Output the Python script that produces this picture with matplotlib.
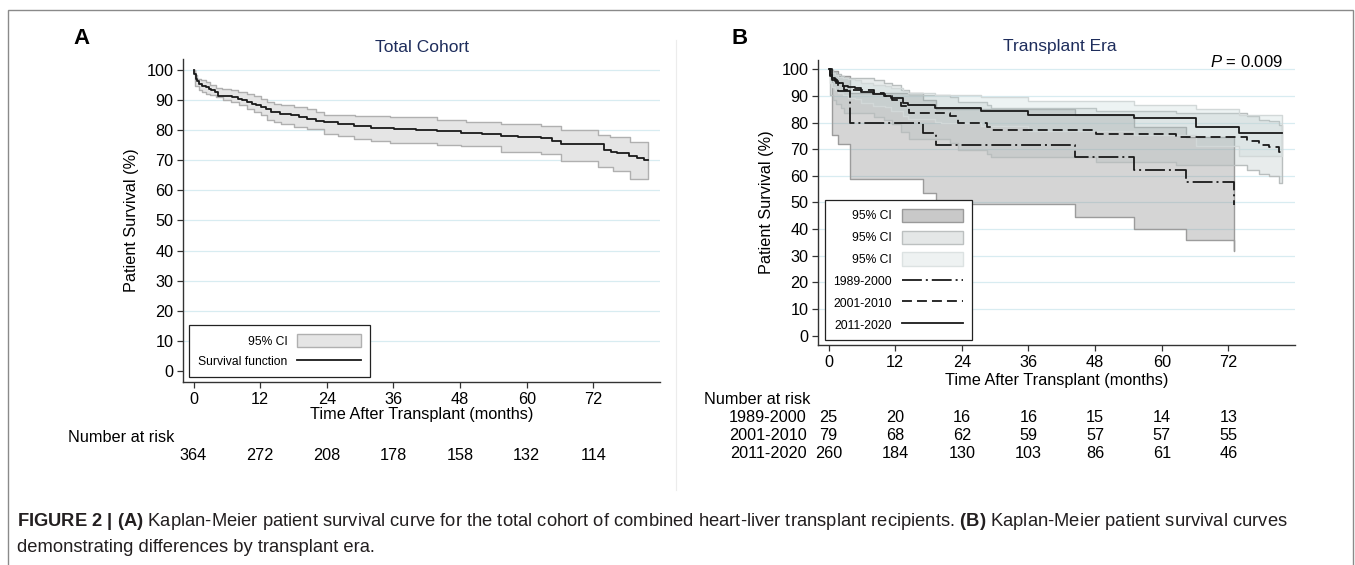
import numpy as np
import matplotlib.pyplot as plt
from matplotlib.patches import Patch, Rectangle
from matplotlib.lines import Line2D
from matplotlib.transforms import blended_transform_factory

plt.rcParams['font.family'] = ['Liberation Sans', 'DejaVu Sans']
plt.rcParams['mathtext.fontset'] = 'custom'
plt.rcParams['mathtext.rm'] = 'Liberation Sans'
plt.rcParams['mathtext.it'] = 'Liberation Sans:italic'
plt.rcParams['mathtext.bf'] = 'Liberation Sans:bold'

# ---- data: panel A (total cohort) ----
surv_t = [0, 0.15, 0.36, 0.6, 0.96, 1.5, 2.2, 2.7, 3.2, 3.8, 4.4, 5.5, 7.0, 8.0, 8.8, 9.7,
          10.6, 11.3, 12.1, 13.0, 13.9, 15.5, 17.5, 19.0, 20.5, 22.0, 23.5, 26.0, 28.9,
          32.0, 36.1, 40.0, 43.9, 48.1, 52.0, 55.3, 58.5, 62.5, 64.5, 66.1, 73.9, 75.2,
          76.3, 78.4, 79.9, 81.2]
surv_s = [100, 98.5, 97.0, 96.2, 95.3, 94.7, 94.2, 93.7, 93.1, 92.6, 91.4, 91.1, 90.9, 90.3,
          89.8, 89.2, 88.6, 88.1, 87.6, 86.8, 85.9, 85.4, 84.8, 84.2, 83.5, 83.0, 82.6, 82.0,
          81.3, 80.8, 80.2, 79.9, 79.5, 79.0, 78.6, 77.9, 77.6, 77.3, 76.3, 75.2, 73.5, 72.8,
          72.2, 71.4, 70.7, 70.0]
up_t = [0, 0.3, 0.66, 1.4, 2.16, 3.0, 3.96, 5.2, 6.66, 8.0, 9.66, 10.9, 12.06, 13.26, 14.4,
        15.66, 18.0, 20.5, 22.0, 23.5, 29.0, 35.4, 43.8, 49.0, 55.3, 62.5, 66.1, 72.9, 75.0, 78.6]
up_v = [100, 98.3, 96.9, 96.4, 96.0, 95.0, 93.8, 93.6, 93.3, 92.7, 92.0, 91.2, 90.3, 89.2, 88.6,
        88.1, 87.5, 87.0, 85.8, 84.8, 84.6, 84.3, 83.2, 82.7, 82.1, 81.2, 79.9, 78.2, 77.7, 76.0]
lo_t = [0, 0.2, 0.96, 1.5, 2.16, 3.0, 3.96, 5.3, 6.66, 8.2, 9.66, 10.9, 12.06, 13.26, 14.4,
        15.66, 18.0, 20.5, 23.5, 26.0, 28.9, 32.0, 35.4, 43.8, 48.1, 55.3, 62.5, 66.1, 72.9,
        75.6, 78.6]
lo_v = [100, 94.7, 93.1, 92.5, 92.0, 91.5, 90.9, 90.0, 89.2, 88.1, 87.0, 86.0, 85.0, 83.2, 82.5,
        81.9, 81.0, 80.2, 78.8, 77.9, 77.1, 76.4, 75.8, 75.1, 74.6, 72.7, 71.9, 69.6, 67.8,
        66.4, 63.9]
end_a = 81.9
risk_total = [364, 272, 208, 178, 158, 132, 114]

# ---- data: panel B (transplant era) ----
eras = ['1989-2000', '2001-2010', '2011-2020']

e1_t = [0, 0.6, 1.7, 3.8, 17.0, 19.3, 44.3, 55.0, 64.3, 73.0]
e1_s = [100, 96, 92, 80, 76, 71.6, 67.1, 62.1, 57.7, 49.0]
e1_up = [100, 99.4, 97.5, 91.0, 88.5, 85.2, 83.0, 78.5, 74.5, 66.0]
e1_lo = [100, 75.5, 72.0, 58.8, 53.6, 49.4, 44.5, 40.0, 35.8, 31.8]
e1_end = 73.0

e2_t = [0, 0.3, 0.8, 1.4, 2.2, 2.8, 8.2, 10.0, 11.4, 13.1, 14.4, 21.8, 23.4, 28.6, 29.3,
        48.1, 62.5, 75.4, 77.5, 79.3, 81.1]
e2_s = [100, 97.5, 96.2, 94.9, 93.7, 92.4, 91.1, 89.9, 88.6, 86.1, 83.6, 82.3, 79.8, 78.5, 77.2,
        75.7, 74.7, 73.0, 71.5, 70.9, 69.0]
e2_up = [100, 99.6, 99.0, 98.2, 97.5, 96.7, 95.9, 95.0, 94.2, 92.4, 90.5, 89.5, 87.6, 86.6, 85.5,
         84.3, 83.5, 82.3, 81.0, 80.5, 79.2]
e2_lo = [100, 90.5, 88.5, 86.8, 85.3, 83.7, 82.2, 80.8, 79.3, 76.4, 73.8, 72.4, 69.6, 68.3, 66.9,
         65.3, 64.2, 62.3, 60.6, 60.0, 57.5]
e2_end = 81.7

e3_t = [0, 0.3, 0.7, 1.1, 1.7, 2.6, 3.5, 4.7, 5.9, 8.0, 10.1, 11.3, 13.4, 14.3, 19.1, 20.3,
        27.5, 35.9, 55.0, 66.1, 73.9]
e3_s = [100, 97.9, 96.6, 95.6, 94.7, 93.9, 93.2, 92.8, 91.6, 90.7, 90.1, 89.1, 87.5, 86.6, 85.6,
        85.3, 84.5, 82.8, 81.6, 78.5, 76.0]
e3_up = [100, 99.3, 98.5, 97.9, 97.3, 96.7, 96.2, 95.9, 95.0, 94.3, 93.9, 93.1, 91.9, 91.2, 90.5,
         90.3, 89.7, 88.0, 86.6, 85.0, 83.0]
e3_lo = [100, 95.0, 93.4, 92.3, 91.2, 90.2, 89.4, 88.9, 87.5, 86.4, 85.7, 84.5, 82.6, 81.5, 80.3,
         79.9, 78.9, 76.7, 75.2, 71.2, 67.5]
e3_end = 81.7

risk_era = {
    '1989-2000': [25, 20, 16, 16, 15, 14, 13],
    '2001-2010': [79, 68, 62, 59, 57, 57, 55],
    '2011-2020': [260, 184, 130, 103, 86, 61, 46],
}
x_ticks = [0, 12, 24, 36, 48, 60, 72]

W, H = 1355, 565


def fx(px):
    return px / W


def fy(py):
    return 1 - py / H


def step_xy(t, v, t_end):
    xs, ys = [], []
    for i in range(len(t)):
        nxt = t[i + 1] if i + 1 < len(t) else t_end
        xs += [t[i], nxt]
        ys += [v[i], v[i]]
    return xs, ys


def band(ax, t_up, v_up, t_lo, v_lo, t_end, fc, ec, alpha=1.0, z=1):
    ux, uy = step_xy(t_up, v_up, t_end)
    lx, ly = step_xy(t_lo, v_lo, t_end)
    ax.fill(ux + lx[::-1], uy + ly[::-1], facecolor=fc, edgecolor='none', alpha=alpha, zorder=z)
    ax.plot(ux + [ux[-1]] + lx[::-1], uy + [ly[-1]] + ly[::-1], color=ec, lw=1.0, zorder=z + 0.1)


def style_axes(ax):
    ax.set_xlim(-1.9, 84)
    ax.set_ylim(-3.5, 103.5)
    ax.set_xticks(x_ticks)
    ax.set_yticks(range(0, 101, 10))
    for s in ['top', 'right']:
        ax.spines[s].set_visible(False)
    for s in ['left', 'bottom']:
        ax.spines[s].set_color('#333333')
        ax.spines[s].set_linewidth(1.0)
    ax.tick_params(direction='out', length=4.5, width=0.9, color='#333333',
                   labelsize=11.7, pad=2.5)
    for yv in range(10, 101, 10):
        ax.axhline(yv, color='#d8ecf1', lw=0.9, zorder=0)
    ax.set_ylabel('Patient Survival (%)', fontsize=11.7)
    ax.yaxis.set_label_coords(-0.093, 0.5)


fig = plt.figure(figsize=(W / 100, H / 100), dpi=100)

# outer frame and divider
fig.add_artist(Rectangle((fx(8), fy(575)), fx(1353) - fx(8), fy(10) - fy(575),
                         transform=fig.transFigure, fill=False, edgecolor='#8a8a8a', lw=1.0))
fig.add_artist(Line2D([fx(676), fx(676)], [fy(40), fy(490)], transform=fig.transFigure,
                      color='#ececec', lw=0.8))

line_col = '#1a1a1a'
ls_dd = (0, (11, 2.2, 1.1, 2.2))
ls_dash = (0, (5.5, 2.8))

# ---------------- panel A ----------------
axA = fig.add_axes([fx(183), fy(382), (660 - 183) / W, (382 - 59) / H])
style_axes(axA)
band(axA, up_t, up_v, lo_t, lo_v, end_a, '#e5e5e5', '#b0b0b0')
sx, sy = step_xy(surv_t, surv_s, end_a)
axA.plot(sx, sy, color=line_col, lw=1.3, zorder=5)
axA.set_xlabel('Time After Transplant (months)', fontsize=11.7, va='center')
axA.xaxis.set_label_coords(0.5, (382 - 415) / (382 - 59))

hA = [Patch(facecolor='#e5e5e5', edgecolor='#b0b0b0'), Line2D([], [], color=line_col, lw=1.3)]
legA = axA.legend(hA, ['95% CI', 'Survival function'], loc='lower left',
                  bbox_to_anchor=(fx(189), fy(377)), bbox_transform=fig.transFigure,
                  markerfirst=False, fancybox=False, edgecolor='#222222', fontsize=8.7,
                  handlelength=5.3, handleheight=1.3, labelspacing=0.55, borderpad=0.75,
                  handletextpad=0.8, borderaxespad=0, framealpha=1)
legA.get_frame().set_linewidth(0.9)

fig.text(fx(422), fy(47), 'Total Cohort', ha='center', va='center', fontsize=12.5, color='#1e2d5c')
fig.text(fx(81), fy(39), 'A', ha='center', va='center', fontsize=16, fontweight='bold')

trA = blended_transform_factory(axA.transData, fig.transFigure)
fig.text(fx(68), fy(437), 'Number at risk', ha='left', va='center', fontsize=11.7)
for xt, n in zip(x_ticks, risk_total):
    axA.text(xt, fy(455), str(n), transform=trA, ha='center', va='center', fontsize=11.7)

# ---------------- panel B ----------------
axB = fig.add_axes([fx(818), fy(345), (1295 - 818) / W, (345 - 60) / H])
style_axes(axB)
band(axB, e1_t, e1_up, e1_t, e1_lo, e1_end, '#8c8c8c', '#9c9c9c', alpha=0.36, z=1)
band(axB, e2_t, e2_up, e2_t, e2_lo, e2_end, '#a9b6b6', '#b9bebe', alpha=0.26, z=2)
band(axB, e3_t, e3_up, e3_t, e3_lo, e3_end, '#c6d8d8', '#d2d8d8', alpha=0.30, z=3)

for t, s, e, ls in [(e1_t, e1_s, e1_end, ls_dd), (e2_t, e2_s, e2_end, ls_dash), (e3_t, e3_s, e3_end, '-')]:
    x, y = step_xy(t, s, e)
    axB.plot(x, y, color=line_col, lw=1.3, linestyle=ls, zorder=6)

axB.set_xlabel('Time After Transplant (months)', fontsize=11.7, va='center')
axB.xaxis.set_label_coords(0.5, (345 - 380) / (345 - 60))

hB = [Patch(facecolor='#c9c9c9', edgecolor='#9a9a9a'),
      Patch(facecolor='#e4e7e7', edgecolor='#bcc0c0'),
      Patch(facecolor='#eef2f2', edgecolor='#dce2e2'),
      Line2D([], [], color=line_col, lw=1.3, linestyle=ls_dd),
      Line2D([], [], color=line_col, lw=1.3, linestyle=ls_dash),
      Line2D([], [], color=line_col, lw=1.3)]
legB = axB.legend(hB, ['95% CI', '95% CI', '95% CI'] + eras, loc='lower left',
                  bbox_to_anchor=(fx(825), fy(340)), bbox_transform=fig.transFigure,
                  markerfirst=False, fancybox=False, edgecolor='#222222', fontsize=8.7,
                  handlelength=5.1, handleheight=1.3, labelspacing=0.68, borderpad=0.7,
                  handletextpad=0.8, borderaxespad=0, framealpha=1)
legB.get_frame().set_linewidth(0.9)
legB.set_zorder(10)

fig.text(fx(1060), fy(47), 'Transplant Era', ha='center', va='center', fontsize=12.5, color='#1e2d5c')
fig.text(fx(740), fy(38), 'B', ha='center', va='center', fontsize=16, fontweight='bold')
fig.text(fx(1283), fy(62), r'$\it{P}$ = 0.009', ha='right', va='center', fontsize=12)

trB = blended_transform_factory(axB.transData, fig.transFigure)
fig.text(fx(704), fy(399), 'Number at risk', ha='left', va='center', fontsize=11.7)
for row_y, era in zip([417, 436, 454], eras):
    fig.text(fx(807), fy(row_y), era, ha='right', va='center', fontsize=11.7)
    for xt, n in zip(x_ticks, risk_era[era]):
        axB.text(xt, fy(row_y), str(n), transform=trB, ha='center', va='center', fontsize=11.7)

# ---------------- caption ----------------
cap1 = (r'$\mathbf{FIGURE\ 2\ |\ (A)}$ Kaplan-Meier patient survival curve for the total cohort of '
        r'combined heart-liver transplant recipients. $\mathbf{(B)}$ Kaplan-Meier patient survival curves')
cap2 = 'demonstrating differences by transplant era.'
fig.text(fx(17), fy(522), cap1, ha='left', va='center', fontsize=13.2, color='#231f20')
fig.text(fx(17), fy(547), cap2, ha='left', va='center', fontsize=13.2, color='#231f20')

fig.savefig('out.png', dpi=100)
